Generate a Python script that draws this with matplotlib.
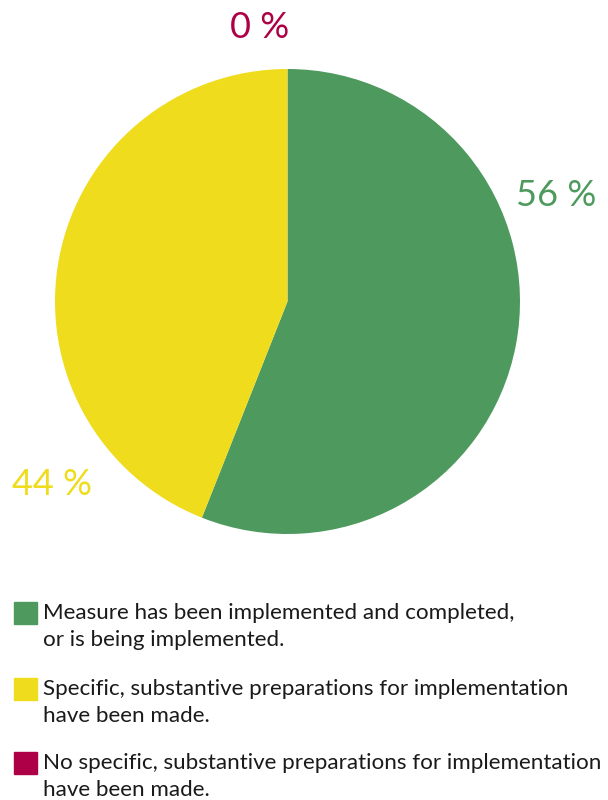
import matplotlib
matplotlib.use("Agg")
import matplotlib.pyplot as plt
from matplotlib.patches import Rectangle

plt.rcParams['font.family'] = ['Lato', 'DejaVu Sans']

categories = [
    "Measure has been implemented and completed,\nor is being implemented.",
    "Specific, substantive preparations for implementation\nhave been made.",
    "No specific, substantive preparations for implementation\nhave been made.",
]
values = [56, 44, 0]
value_labels = ["56 %", "44 %", "0 %"]
colors = ["#4E9A5E", "#EFDC1C", "#AE0046"]

W, H = 608, 800
fig = plt.figure(figsize=(W / 100, H / 100), dpi=100)

# Pie area
cx, cy, r = 287.5, 301.5, 232.5
ax = fig.add_axes([(cx - r) / W, 1 - (cy + r) / H, 2 * r / W, 2 * r / H])
ax.pie(values, colors=colors, startangle=90, counterclock=False,
       radius=1.0, wedgeprops=dict(linewidth=0))
ax.set_xlim(-1, 1)
ax.set_ylim(-1, 1)
ax.set_aspect('equal')
ax.axis('off')

# Percentage labels placed in figure pixels
label_pos = [(556, 195), (52, 485), (260, 28)]
for (x, y), txt, c in zip(label_pos, value_labels, colors):
    fig.text(x / W, 1 - y / H, txt, color=c, fontsize=26, ha='center', va='center')

# Legend
leg_y = [602, 678, 752]
for y, txt, c in zip(leg_y, categories, colors):
    fig.patches.append(Rectangle((14 / W, 1 - (y + 22) / H), 23 / W, 22 / H,
                                 transform=fig.transFigure, color=c, zorder=3))
    fig.text(43 / W, 1 - (y + 1) / H, txt, fontsize=16.1, color="#1a1a1a",
             ha='left', va='top', linespacing=1.42)

fig.savefig("out.png", dpi=100)
